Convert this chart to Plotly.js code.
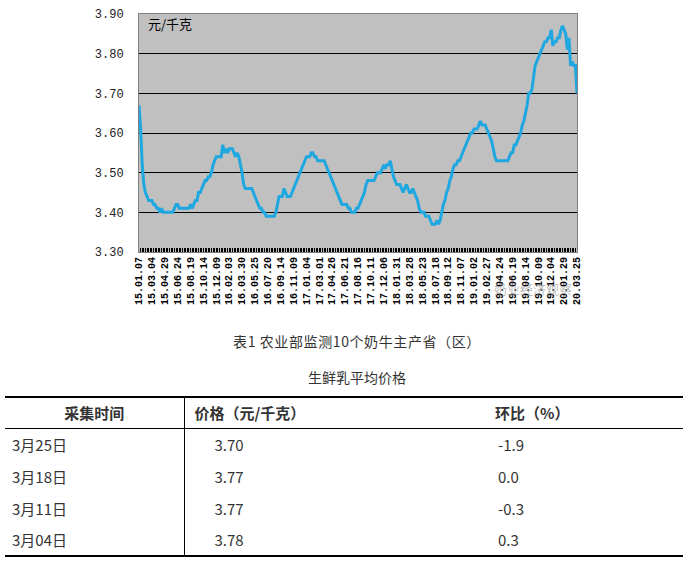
<!DOCTYPE html>
<html>
<head>
<meta charset="utf-8">
<script src="https://cdn.plot.ly/plotly-3.0.1.min.js"></script>
<style>
  body { margin: 0; background: #fff; width: 696px; height: 573px; overflow: hidden;
         font-family: "Noto Sans CJK SC", sans-serif; color: #333; position: relative; }
  #chart { position: absolute; left: 0; top: 0; width: 696px; height: 320px; }
  .cap { position: absolute; left: 0; width: 714px; text-align: center; font-size: 14px; line-height: 20px; }
  #tbl { position: absolute; left: 5px; top: 396px; width: 678px; border-collapse: collapse; font-size: 15px; table-layout: fixed; }
  #tbl td { padding: 0; height: 32px; vertical-align: middle; box-sizing: border-box; }
  #tbl tr.head td { font-weight: bold; height: 31px; border-bottom: 1px solid #000; }
  #tbl { border-top: 2px solid #000; border-bottom: 2px solid #000; }
  #tbl td.c1 { width: 179px; border-right: 1.5px solid #000; padding-left: 7px; }
  #tbl td.c2 { width: 256px; padding-left: 30px; }
  #tbl td.c3 { padding-left: 58px; }
  #tbl tr.head td.c1 { text-align: center; padding-left: 0; }
  #tbl tr.head td.c2 { padding-left: 10px; }
  #tbl tr.head td.c3 { padding-left: 55px; }
</style>
</head>
<body>
<div id="chart"></div>
<div class="cap" style="top:331px; letter-spacing:0.6px">表1 农业部监测10个奶牛主产省（区）</div>
<div class="cap" style="top:367px">生鲜乳平均价格</div>
<table id="tbl"></table>
<script>
// weekly price of raw milk, yuan/kg, from 2015-01-07
const startDate = [2015, 0, 7];
const prices = [
  3.67,3.61,3.52,3.47,3.45,3.44,3.43,3.43,3.43,3.42,
  3.42,3.41,3.41,3.40,3.41,3.40,3.40,3.40,3.40,3.40,
  3.40,3.40,3.41,3.42,3.42,3.41,3.41,3.41,3.41,3.41,
  3.41,3.41,3.42,3.41,3.42,3.43,3.43,3.45,3.45,3.46,
  3.47,3.48,3.48,3.49,3.49,3.50,3.52,3.53,3.54,3.54,
  3.54,3.54,3.57,3.55,3.56,3.55,3.56,3.56,3.56,3.55,
  3.54,3.55,3.54,3.52,3.50,3.47,3.46,3.46,3.46,3.46,
  3.46,3.45,3.44,3.43,3.42,3.41,3.41,3.40,3.40,3.39,
  3.39,3.39,3.39,3.39,3.39,3.40,3.42,3.44,3.44,3.44,
  3.46,3.45,3.44,3.44,3.44,3.45,3.46,3.47,3.48,3.49,
  3.50,3.51,3.52,3.53,3.54,3.54,3.54,3.55,3.55,3.54,
  3.54,3.53,3.53,3.53,3.53,3.53,3.52,3.51,3.50,3.49,
  3.48,3.47,3.46,3.45,3.44,3.43,3.42,3.42,3.42,3.42,
  3.41,3.41,3.40,3.40,3.40,3.41,3.41,3.42,3.43,3.44,
  3.45,3.47,3.48,3.48,3.48,3.48,3.48,3.49,3.50,3.50,
  3.50,3.51,3.52,3.51,3.52,3.52,3.53,3.51,3.49,3.48,
  3.47,3.47,3.47,3.46,3.45,3.46,3.47,3.46,3.45,3.45,
  3.46,3.45,3.44,3.43,3.41,3.40,3.40,3.40,3.39,3.39,
  3.39,3.38,3.37,3.37,3.37,3.38,3.37,3.38,3.40,3.42,
  3.43,3.45,3.46,3.48,3.49,3.51,3.52,3.52,3.53,3.53,
  3.54,3.55,3.56,3.57,3.58,3.59,3.60,3.60,3.61,3.61,
  3.61,3.62,3.63,3.62,3.62,3.62,3.61,3.60,3.59,3.58,
  3.56,3.54,3.53,3.53,3.53,3.53,3.53,3.53,3.53,3.53,
  3.54,3.55,3.55,3.57,3.57,3.58,3.59,3.60,3.62,3.63,
  3.65,3.67,3.70,3.70,3.71,3.74,3.77,3.78,3.79,3.80,
  3.81,3.82,3.83,3.83,3.84,3.84,3.86,3.82,3.83,3.83,
  3.84,3.84,3.86,3.87,3.86,3.85,3.81,3.84,3.77,3.78,
  3.77,3.77,3.70
];

const tickLabels = [
  "15.01.07","15.03.04","15.04.29","15.06.24","15.08.19","15.10.14","15.12.09",
  "16.02.03","16.03.30","16.05.25","16.07.20","16.09.14","16.11.09",
  "17.01.04","17.03.01","17.04.26","17.06.21","17.08.16","17.10.11","17.12.06",
  "18.01.31","18.03.28","18.05.23","18.07.18","18.09.12","18.11.07",
  "19.01.02","19.02.27","19.04.24","19.06.19","19.08.14","19.10.09","19.12.04",
  "20.01.29","20.03.25"
];

const yTicks = [3.30, 3.40, 3.50, 3.60, 3.70, 3.80, 3.90];

// table under the chart
const tableHead = ["采集时间", "价格（元/千克）", "环比（%）"];
const tableDates = ["3月25日", "3月18日", "3月11日", "3月04日"];
const tablePrices = ["3.70", "3.77", "3.77", "3.78"];
const tableChange = ["-1.9", "0.0", "-0.3", "0.3"];

const DAY = 86400000;
const t0 = Date.UTC(startDate[0], startDate[1], startDate[2]);
const weeks = prices.map((p, i) => new Date(t0 + i * 7 * DAY).toISOString().slice(0, 10));
const tickVals = tickLabels.map(s => "20" + s.replace(/\./g, "-"));

const trace = {
  x: weeks,
  y: prices,
  type: "scatter",
  mode: "lines",
  line: { color: "#1ea7e1", width: 3 },
  hoverinfo: "skip"
};

const layout = {
  width: 696,
  height: 320,
  margin: { l: 139, r: 119, t: 14, b: 68 },
  paper_bgcolor: "#fff",
  plot_bgcolor: "#c0c0c0",
  showlegend: false,
  xaxis: {
    type: "date",
    range: [weeks[0], weeks[weeks.length - 1]],
    tickmode: "array",
    tickvals: tickVals,
    ticktext: tickLabels,
    tickangle: -90,
    tickfont: { family: "Liberation Mono", size: 10, color: "#000", weight: "bold" },
    ticks: "inside",
    ticklen: 4,
    tickcolor: "#000",
    minor: { tickmode: "linear", tick0: weeks[0], dtick: 7 * DAY, ticks: "inside", ticklen: 4, tickcolor: "#000", showgrid: false },
    showgrid: false,
    zeroline: false,
    showline: true,
    linecolor: "#808080",
    mirror: true
  },
  yaxis: {
    range: [3.30, 3.90],
    tickmode: "array",
    tickvals: yTicks,
    ticktext: yTicks.map(v => v.toFixed(2)),
    tickfont: { family: "Liberation Mono", size: 12, color: "#222" },
    ticks: "",
    ticklabelstandoff: 12,
    showgrid: true,
    gridcolor: "#000",
    gridwidth: 1,
    zeroline: false,
    showline: true,
    linecolor: "#808080",
    mirror: true
  },
  annotations: [
    {
      text: "元/千克", xref: "paper", yref: "y", x: 0.016, y: 3.875,
      xanchor: "left", yanchor: "middle", showarrow: false,
      font: { family: "Noto Sans CJK SC", size: 13, color: "#000" }
    },
    {
      text: "奶业经济观察", xref: "paper", yref: "paper", x: 0.90, y: -0.155,
      xanchor: "center", yanchor: "middle", showarrow: false,
      font: { family: "Noto Sans CJK SC", size: 13, color: "rgba(150,150,150,0.65)" }
    }
  ]
};

Plotly.newPlot("chart", [trace], layout, { staticPlot: true });

// build table rows
const tbl = document.getElementById("tbl");
function addRow(cells, cls) {
  const tr = document.createElement("tr");
  if (cls) tr.className = cls;
  cells.forEach((c, k) => {
    const td = document.createElement("td");
    td.className = "c" + (k + 1);
    td.textContent = c;
    tr.appendChild(td);
  });
  tbl.appendChild(tr);
}
addRow(tableHead, "head");
tableDates.forEach((d, i) => addRow([d, tablePrices[i], tableChange[i]]));
</script>
</body>
</html>
